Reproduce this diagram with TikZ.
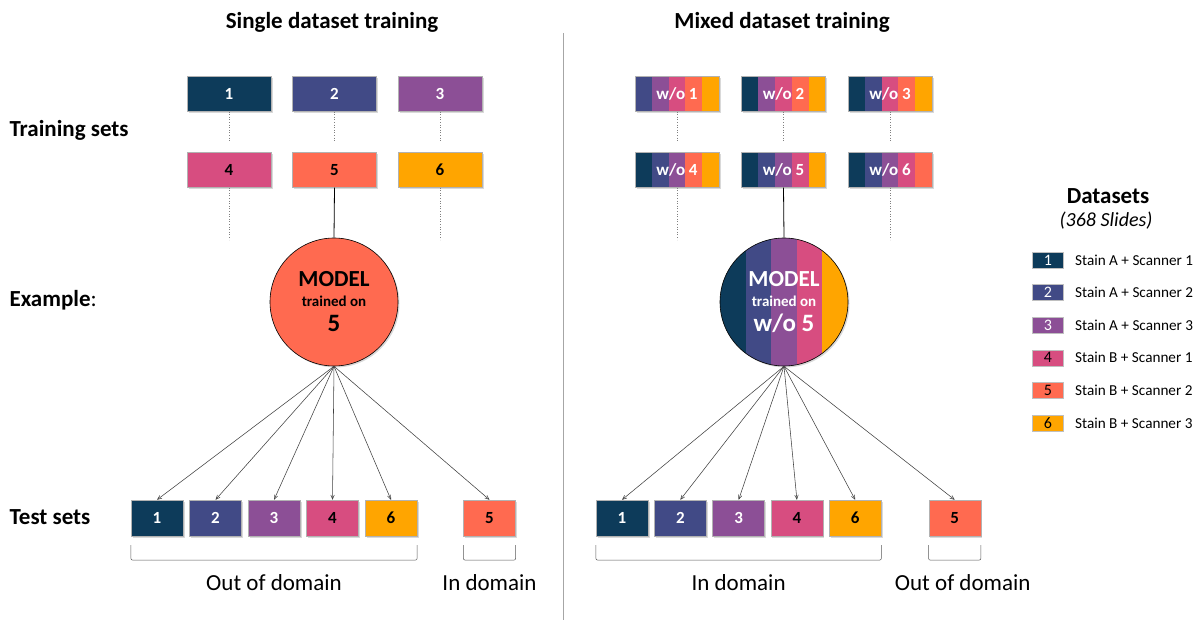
\documentclass[tikz,border=0pt]{standalone}
\usepackage{fontspec}
\setmainfont{Carlito}
\usepackage{xcolor}
\usetikzlibrary{shapes.geometric, arrows, calc, shadows}

\definecolor{ds1}{HTML}{0D3B5A}
\definecolor{ds2}{HTML}{414A86}
\definecolor{ds3}{HTML}{8C4F96}
\definecolor{ds4}{HTML}{D74D80}
\definecolor{ds5}{HTML}{FF6A50}
\definecolor{ds6}{HTML}{FFA500}

% five vertical colour bands inside a node (boxes and circle of the mixed side)
\tikzset{stripes/.style={path picture={
  \foreach \c [count=\i from 0] in {#1}
    \fill[\c] ($(path picture bounding box.north west)!{\i/5}!(path picture bounding box.north east)$)
      rectangle ($(path picture bounding box.south west)!{(\i+1)/5}!(path picture bounding box.south east)$);
}}}

\begin{document}
\begin{tikzpicture}[x=1pt, y=-1pt, node distance=105.5pt]
        % Styles
        \tikzstyle{heading} = [font=\fontsize{23}{27}\selectfont\bfseries]
        \tikzstyle{rowlabel} = [anchor=west, font=\fontsize{23}{27}\selectfont\bfseries]
        \tikzstyle{boxshadow} = [drop shadow={shadow xshift=1.5pt, shadow yshift=-1.5pt, opacity=0.3}]
        \tikzstyle{trainbox} = [rectangle, draw=gray!60, line width=0.4pt, minimum width=84pt,
                                minimum height=35pt, inner sep=0pt, font=\fontsize{17}{20}\selectfont\bfseries, boxshadow]
        \tikzstyle{testbox} = [trainbox, minimum width=52pt, minimum height=36pt]
        \tikzstyle{model} = [circle, draw=black, line width=0.6pt, minimum size=128pt, inner sep=0pt,
                             align=center, font=\fontsize{15}{22}\selectfont\bfseries, boxshadow]
        \tikzstyle{keybox} = [rectangle, draw=gray!50, line width=0.3pt, minimum width=31pt,
                              minimum height=16pt, inner sep=0pt, font=\fontsize{16}{16}\selectfont]
        \tikzstyle{keytext} = [anchor=west, xshift=8pt, font=\fontsize{15.2}{18}\selectfont]
        \tikzstyle{domainlbl} = [font=\fontsize{23}{27}\selectfont]
        \tikzstyle{arrow} = [draw=gray!50!black, line width=0.55pt, ->, >=angle 45]
        \tikzstyle{stub} = [draw=gray, dotted, line width=0.6pt]
        \tikzstyle{bracket} = [draw=gray!70!black, line width=0.5pt, rounded corners=2pt]

        \useasboundingbox (0,0) rectangle (1199,620);

        % Titles and row labels
        \node (lefthead) [heading] at (332,22) {Single dataset training};
        \node (righthead) [heading] at (782,22) {Mixed dataset training};
        \node (trainlbl) [rowlabel] at (6,130) {Training sets};
        \node (examplelbl) [rowlabel] at (6,300) {Example\textmd{:}};
        \node (testlbl) [rowlabel] at (6,517) {Test sets};
        \draw[gray!70, line width=0.6pt] (563,33) -- (563,620);

        % Single dataset training sets
        \node (s1) [trainbox, fill=ds1, text=white] at (229,94) {1};
        \node (s2) [trainbox, fill=ds2, text=white, right of=s1] {2};
        \node (s3) [trainbox, fill=ds3, text=white, right of=s2] {3};
        \node (s4) [trainbox, fill=ds4, below of=s1, node distance=76pt] {4};
        \node (s5) [trainbox, fill=ds5, below of=s2, node distance=76pt] {5};
        \node (s6) [trainbox, fill=ds6, below of=s3, node distance=76pt] {6};

        % Single dataset model
        \node (lmodel) [model, fill=ds5] at (334,302)
              {\fontsize{23}{22}\selectfont MODEL\\[-2pt]
               trained on\\[3pt]
               \fontsize{25}{22}\selectfont 5};

        % Single dataset test sets
        \node (lt1) [testbox, fill=ds1, text=white] at (157,518) {1};
        \node (lt2) [testbox, fill=ds2, text=white, right of=lt1, node distance=58.5pt] {2};
        \node (lt3) [testbox, fill=ds3, text=white, right of=lt2, node distance=58.5pt] {3};
        \node (lt4) [testbox, fill=ds4, right of=lt3, node distance=58.5pt] {4};
        \node (lt6) [testbox, fill=ds6, right of=lt4, node distance=58.5pt] {6};
        \node (lt5) [testbox, fill=ds5, right of=lt6, node distance=98.5pt] {5};

        % Mixed dataset training sets
        \node (w1) [trainbox, stripes={ds2,ds3,ds4,ds5,ds6}, text=white] at (677,94) {w/o 1};
        \node (w2) [trainbox, stripes={ds1,ds3,ds4,ds5,ds6}, text=white, right of=w1, node distance=106.5pt] {w/o 2};
        \node (w3) [trainbox, stripes={ds1,ds2,ds4,ds5,ds6}, text=white, right of=w2, node distance=106.5pt] {w/o 3};
        \node (w4) [trainbox, stripes={ds1,ds2,ds3,ds5,ds6}, text=white, below of=w1, node distance=76pt] {w/o 4};
        \node (w5) [trainbox, stripes={ds1,ds2,ds3,ds4,ds6}, text=white, below of=w2, node distance=76pt] {w/o 5};
        \node (w6) [trainbox, stripes={ds1,ds2,ds3,ds4,ds5}, text=white, below of=w3, node distance=76pt] {w/o 6};

        % Mixed dataset model
        \node (rmodel) [model, stripes={ds1,ds2,ds3,ds4,ds6}, text=white] at (784,302)
              {\fontsize{23}{22}\selectfont MODEL\\[-2pt]
               trained on\\[3pt]
               \fontsize{25}{22}\selectfont w/o 5};

        % Mixed dataset test sets
        \node (rt1) [testbox, fill=ds1, text=white] at (622,518) {1};
        \node (rt2) [testbox, fill=ds2, text=white, right of=rt1, node distance=58.3pt] {2};
        \node (rt3) [testbox, fill=ds3, text=white, right of=rt2, node distance=58.3pt] {3};
        \node (rt4) [testbox, fill=ds4, right of=rt3, node distance=58.3pt] {4};
        \node (rt6) [testbox, fill=ds6, right of=rt4, node distance=58.3pt] {6};
        \node (rt5) [testbox, fill=ds5, right of=rt6, node distance=99.5pt] {5};

        % Legend
        \node (datasets) [heading] at (1108,196) {Datasets};
        \node (slides) [font=\fontsize{20}{24}\selectfont\itshape] at (1106,221) {(368 Slides)};
        \node (k1) [keybox, fill=ds1, text=white] at (1048,260) {1};
        \node (k2) [keybox, fill=ds2, text=white, below of=k1, node distance=32.6pt] {2};
        \node (k3) [keybox, fill=ds3, text=white, below of=k2, node distance=32.6pt] {3};
        \node (k4) [keybox, fill=ds4, below of=k3, node distance=32.6pt] {4};
        \node (k5) [keybox, fill=ds5, below of=k4, node distance=32.6pt] {5};
        \node (k6) [keybox, fill=ds6, below of=k5, node distance=32.6pt] {6};
        \node (k1t) [keytext] at (k1.east) {Stain A + Scanner 1};
        \node (k2t) [keytext] at (k2.east) {Stain A + Scanner 2};
        \node (k3t) [keytext] at (k3.east) {Stain A + Scanner 3};
        \node (k4t) [keytext] at (k4.east) {Stain B + Scanner 1};
        \node (k5t) [keytext] at (k5.east) {Stain B + Scanner 2};
        \node (k6t) [keytext] at (k6.east) {Stain B + Scanner 3};

        % Dotted stubs below the unused training sets
        \coordinate (s1e) at ([yshift=-29pt]s1.south);
        \coordinate (s2e) at ([yshift=-29pt]s2.south);
        \coordinate (s3e) at ([yshift=-29pt]s3.south);
        \coordinate (s4e) at ([yshift=-52pt]s4.south);
        \coordinate (s6e) at ([yshift=-52pt]s6.south);
        \coordinate (w1e) at ([yshift=-29pt]w1.south);
        \coordinate (w2e) at ([yshift=-29pt]w2.south);
        \coordinate (w3e) at ([yshift=-29pt]w3.south);
        \coordinate (w4e) at ([yshift=-52pt]w4.south);
        \coordinate (w6e) at ([yshift=-52pt]w6.south);
        \draw [stub] (s1.south) -- (s1e);
        \draw [stub] (s2.south) -- (s2e);
        \draw [stub] (s3.south) -- (s3e);
        \draw [stub] (s4.south) -- (s4e);
        \draw [stub] (s6.south) -- (s6e);
        \draw [stub] (w1.south) -- (w1e);
        \draw [stub] (w2.south) -- (w2e);
        \draw [stub] (w3.south) -- (w3e);
        \draw [stub] (w4.south) -- (w4e);
        \draw [stub] (w6.south) -- (w6e);

        % Training set feeding each model
        \draw [line width=0.8pt] (s5.south) -- (lmodel.north);
        \draw [line width=0.8pt] (w5.south) -- (rmodel.north);

        % Arrows to the test sets
        \draw [arrow] (lmodel.south) -- (lt1.north);
        \draw [arrow] (lmodel.south) -- (lt2.north);
        \draw [arrow] (lmodel.south) -- (lt3.north);
        \draw [arrow] (lmodel.south) -- (lt4.north);
        \draw [arrow] (lmodel.south) -- (lt6.north);
        \draw [arrow] (lmodel.south) -- (lt5.north);
        \draw [arrow] (rmodel.south) -- (rt1.north);
        \draw [arrow] (rmodel.south) -- (rt2.north);
        \draw [arrow] (rmodel.south) -- (rt3.north);
        \draw [arrow] (rmodel.south) -- (rt4.north);
        \draw [arrow] (rmodel.south) -- (rt6.north);
        \draw [arrow] (rmodel.south) -- (rt5.north);

        % Brackets and domain labels
        \draw [bracket] ([yshift=-9pt]lt1.south west) |- ([yshift=-24pt]lt6.south east) -- ([yshift=-9pt]lt6.south east);
        \draw [bracket] ([yshift=-9pt]lt5.south west) |- ([yshift=-24pt]lt5.south east) -- ([yshift=-9pt]lt5.south east);
        \draw [bracket] ([yshift=-9pt]rt1.south west) |- ([yshift=-24pt]rt6.south east) -- ([yshift=-9pt]rt6.south east);
        \draw [bracket] ([yshift=-9pt]rt5.south west) |- ([yshift=-24pt]rt5.south east) -- ([yshift=-9pt]rt5.south east);
        \node (lood) [domainlbl] at ($(lt1.south west)!0.5!(lt6.south east)+(0,46)$) {Out of domain};
        \node (lind) [domainlbl] at ($(lt5.south)+(0,46)$) {In domain};
        \node (rind) [domainlbl] at ($(rt1.south west)!0.5!(rt6.south east)+(0,46)$) {In domain};
        \node (rood) [domainlbl] at ($(rt5.south)+(8,46)$) {Out of domain};
    \end{tikzpicture}
\end{document}
